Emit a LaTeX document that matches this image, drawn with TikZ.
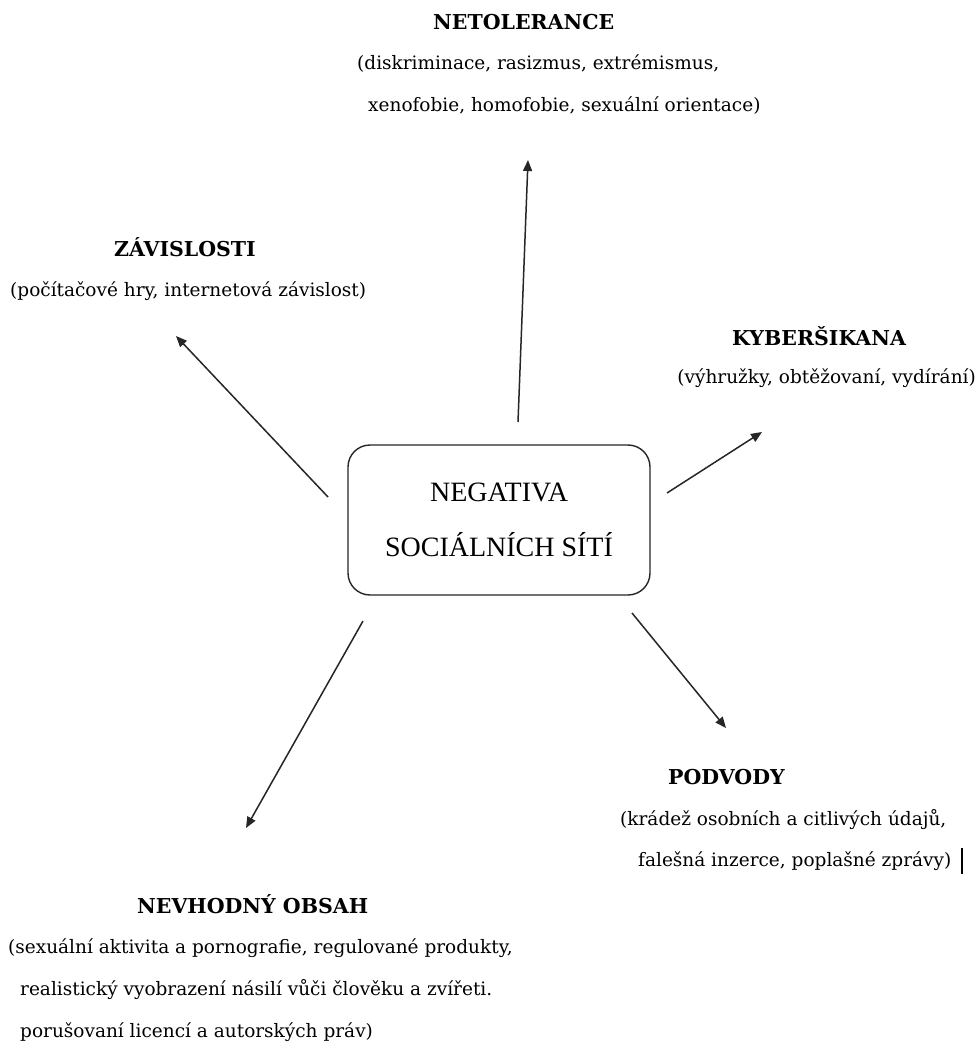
\documentclass[tikz,border=0pt]{standalone}
\usepackage{fontspec}
\setmainfont{DejaVu Serif}
\newfontfamily\boxfont{Liberation Serif}
\usetikzlibrary{arrows.meta}
\tikzset{
  head/.style={font=\bfseries\fontsize{20.5}{24}\selectfont, inner sep=0pt, anchor=west},
  body/.style={font=\fontsize{18.5}{22}\selectfont, inner sep=0pt, anchor=west},
  arr/.style={line width=1.5pt, draw=black!85, -{Triangle[length=11pt,width=9pt]}},
  mainbox/.style={draw=black!85, line width=1.4pt, rounded corners=22pt, minimum width=302pt, minimum height=150pt, align=center, font=\boxfont\fontsize{28}{55}\selectfont}
}
\begin{document}
\begin{tikzpicture}[x=1pt,y=-1pt]
\useasboundingbox[fill=white] (0,0) rectangle (979,1056);
% central box
\node[mainbox] (c) at (499,520) {NEGATIVA\\SOCIÁLNÍCH SÍTÍ};
% NETOLERANCE
\node[head] (n1) at (433,22) {NETOLERANCE};
\node[body] (n2) at (357,64) {(diskriminace, rasizmus, extrémismus,};
\node[body] (n3) at (368,106) {xenofobie, homofobie, sexuální orientace)};
% ZÁVISLOSTI
\node[head] (z1) at (114,247) {ZÁVISLOSTI};
\node[body] (z2) at (10,291) {(počítačové hry, internetová závislost)};
% KYBERŠIKANA
\node[head] (k1) at (732,336) {KYBERŠIKANA};
\node[body, anchor=east] (k2) at (976,378) {(výhružky, obtěžovaní, vydírání)};
% PODVODY
\node[head] (p1) at (668,777) {PODVODY};
\node[body] (p2) at (620,820) {(krádež osobních a citlivých údajů,};
\node[body] (p3) at (638,861) {falešná inzerce, poplašné zprávy)};
\coordinate (cur1) at (962,848);
\coordinate (cur2) at (962,874);
\draw[line width=1.2pt] (cur1) -- (cur2);
% NEVHODNÝ OBSAH
\node[head] (v1) at (137,904) {NEVHODNÝ OBSAH};
\node[body] (v2) at (8,948) {(sexuální aktivita a pornografie, regulované produkty,};
\node[body] (v3) at (20,990) {realistický vyobrazení násilí vůči člověku a zvířeti.};
\node[body] (v4) at (20,1032) {porušovaní licencí a autorských práv)};
% arrow ends
\coordinate (tU) at (518,422);  \coordinate (hU) at (528,160);
\coordinate (tUL) at (328,497); \coordinate (hUL) at (176,336);
\coordinate (tR) at (667,493);  \coordinate (hR) at (762,432);
\coordinate (tDR) at (632,613); \coordinate (hDR) at (726,728);
\coordinate (tDL) at (363,621); \coordinate (hDL) at (246,828);
\draw[arr] (tU) -- (hU);
\draw[arr] (tUL) -- (hUL);
\draw[arr] (tR) -- (hR);
\draw[arr] (tDR) -- (hDR);
\draw[arr] (tDL) -- (hDL);
\end{tikzpicture}
\end{document}
